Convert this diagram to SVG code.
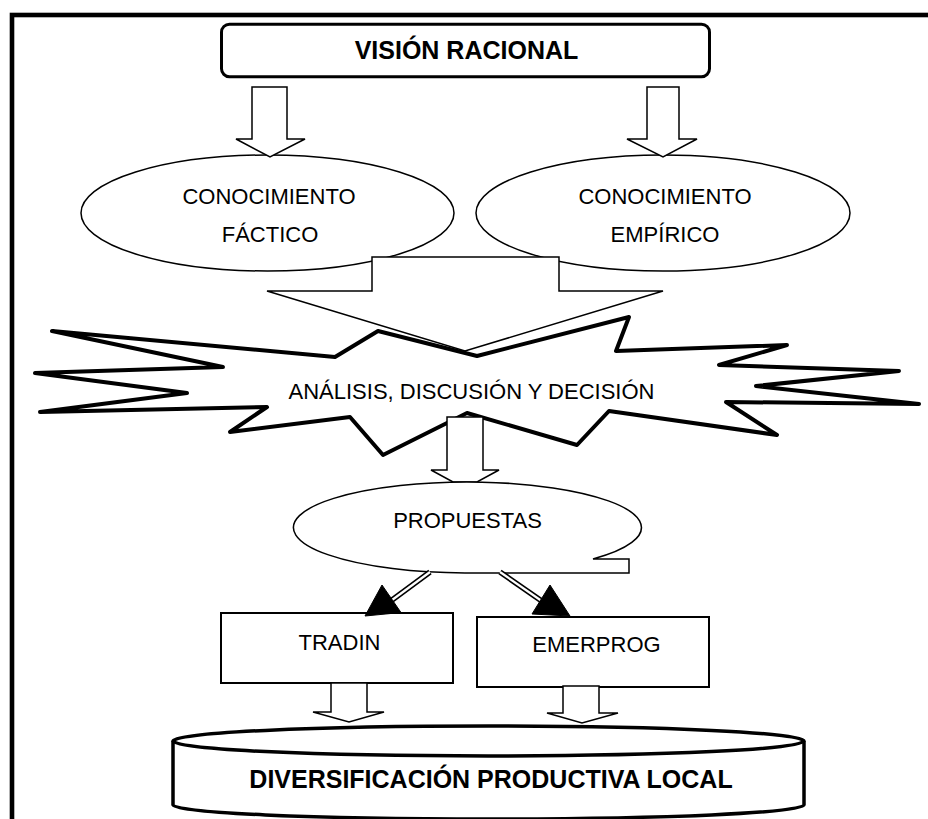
<svg xmlns="http://www.w3.org/2000/svg" width="928" height="819" viewBox="0 0 928 819">
<style>
text{font-family:"Liberation Sans",Arial,sans-serif;fill:#000;text-anchor:middle}
.n{font-size:22px}
.b{font-size:25px;font-weight:bold}
.thin{fill:#fff;stroke:#000;stroke-width:1.5}
.blk{fill:#fff;stroke:#000;stroke-width:1.5;stroke-linejoin:miter}
</style>
<rect width="928" height="819" fill="#fff"/>
<rect id="border" x="12" y="15" width="1000" height="1000" fill="none" stroke="#000" stroke-width="4.6"/>
<g id="vision-racional">
<rect x="221.5" y="24.2" width="488" height="52.5" rx="8" fill="#fff" stroke="#000" stroke-width="3"/>
<text class="b" x="466.5" y="59">VISIÓN RACIONAL</text>
</g>
<g id="conocimiento-factico">
<ellipse cx="267.5" cy="213" rx="186.5" ry="58" class="thin"/>
<text class="n" x="269" y="204">CONOCIMIENTO</text>
<text class="n" x="270" y="242">FÁCTICO</text>
</g>
<g id="conocimiento-empirico">
<ellipse cx="663" cy="213" rx="187" ry="58" class="thin"/>
<text class="n" x="665" y="204">CONOCIMIENTO</text>
<text class="n" x="665" y="242">EMPÍRICO</text>
</g>
<g id="analisis">
<polygon points="52,331 335,357 378,331 477,356 629,317 616,351 787,345 719,365 899,371 756,386 919,404 726,402 777,435 609,411 577,445 467,413 383,455 350,417 230,432 267,407 40,412 187,393 35,373 223,367" fill="#fff" stroke="#000" stroke-width="4" stroke-linejoin="round"/>
<text class="n" x="471.5" y="399">ANÁLISIS, DISCUSIÓN Y DECISIÓN</text>
</g>
<g id="connectors">
<path class="blk" d="M447,417 H483 V470 H499 L477,482 L453,482 L431,470 H447 Z"/>
</g>
<g id="propuestas">
<path d="M465,573 A174,45.5 0 1 1 593,559 L629,559 L629,573 Z" class="thin"/>
<text class="n" x="467.5" y="528">PROPUESTAS</text>
</g>
<g id="tradin">
<rect x="221" y="613" width="232" height="70" fill="#fff" stroke="#000" stroke-width="2"/>
<text class="n" x="339.5" y="650">TRADIN</text>
</g>
<g id="emerprog">
<rect x="477" y="617" width="232" height="70" fill="#fff" stroke="#000" stroke-width="2"/>
<text class="n" x="596.5" y="652">EMERPROG</text>
</g>
<g id="diversificacion">
<path d="M173,741 L173,805 A315.5,14 0 0,0 804,805 L804,741 A315.5,15 0 0,0 173,741 Z" fill="#fff" stroke="#000" stroke-width="3.5" stroke-linejoin="round"/>
<path d="M173,741 A315.5,15 0 0,0 804,741" fill="none" stroke="#000" stroke-width="3.5"/>
<text class="b" x="491" y="788">DIVERSIFICACIÓN PRODUCTIVA LOCAL</text>
</g>
<g id="connectors-2">
<path class="blk" d="M252,87 H287 V139 H305 L270,157 L236,139 H252 Z"/>
<path class="blk" d="M647,87 H679 V139 H697 L663,157 L627,139 H647 Z"/>
<path class="blk" d="M372,257 H559 V291 H663 L465,351 L267,291 H372 Z"/>
<line x1="430" y1="572" x2="388" y2="603" stroke="#000" stroke-width="5.5"/>
<line x1="430" y1="572" x2="388" y2="603" stroke="#fff" stroke-width="2.2"/>
<line x1="500" y1="572" x2="546" y2="604" stroke="#000" stroke-width="5.5"/>
<line x1="500" y1="572" x2="546" y2="604" stroke="#fff" stroke-width="2.2"/>
<polygon points="382,585 365,616 401,612.5" fill="#000" stroke="#000" stroke-width="1"/>
<polygon points="550,585 532,614 570,616" fill="#000" stroke="#000" stroke-width="1"/>
<path class="blk" d="M331,683 H367 V712 H384 L349,722 L313,712 H331 Z"/>
<path class="blk" d="M563,686 H599 V713 H618 L582,723 L547,713 H563 Z"/>
</g>
</svg>
